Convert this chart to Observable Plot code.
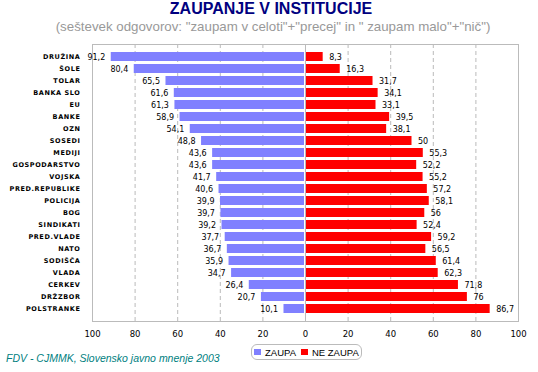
<!DOCTYPE html>
<html><head><meta charset="utf-8">
<script src="https://cdn.jsdelivr.net/npm/d3@7"></script>
<script src="https://cdn.jsdelivr.net/npm/@observablehq/plot@0.6"></script>
<style>
body{margin:0;background:#fff;}
#wrap{position:relative;width:538px;height:372px;overflow:hidden;font-family:"Liberation Sans",Arial,sans-serif;}
#title{position:absolute;top:0px;left:0;width:542px;text-align:center;font-weight:bold;font-size:16px;color:#000080;}
#sub{position:absolute;top:19px;left:0;width:546px;text-align:center;font-size:13.3px;color:#999;}
#chart{position:absolute;top:0;left:0;}
#legend{position:absolute;top:344px;left:251px;height:14px;padding:0 2px;border:1px solid #bbb;border-radius:6px;font-size:9.5px;display:flex;align-items:center;gap:3px;color:#000;}
#legend span.sw{display:inline-block;width:7px;height:6px;margin-right:1px;}
#foot{position:absolute;top:352px;left:6px;font-style:italic;font-size:10.5px;color:#008080;}
</style></head>
<body><div id="wrap">
<div id="chart"></div>
<div id="title">ZAUPANJE V INSTITUCIJE</div>
<div id="sub">(seštevek odgovorov: "zaupam v celoti"+"precej" in " zaupam malo"+"nič")</div>
<div id="legend"><span class="sw" style="background:#8080ff"></span>ZAUPA <span class="sw" style="background:#ff0000;margin-left:2px"></span>NE ZAUPA</div>
<div id="foot">FDV - CJMMK, Slovensko javno mnenje 2003</div>
</div>
<script>
const categories = ["DRUŽINA","ŠOLE","TOLAR","BANKA SLO","EU","BANKE","OZN","SOSEDI","MEDIJI","GOSPODARSTVO","VOJSKA","PRED.REPUBLIKE","POLICIJA","BOG","SINDIKATI","PRED.VLADE","NATO","SODIŠČA","VLADA","CERKEV","DRŽZBOR","POLSTRANKE"];
const zaupa = [91.2,80.4,65.5,61.6,61.3,58.9,54.1,48.8,43.6,43.6,41.7,40.6,39.9,39.7,39.2,37.7,36.7,35.9,34.7,26.4,20.7,10.1];
const neZaupa = [8.3,16.3,31.7,34.1,33.1,39.5,38.1,50,55.3,52.2,55.2,57.2,58.1,56,52.4,59.2,56.5,61.4,62.3,71.8,76,86.7];
const xTicks = [-100,-80,-60,-40,-20,0,20,40,60,80,100];

const rows = categories.map((c,i)=>({cat:c, z:zaupa[i], n:neZaupa[i]}));
const fmt = v => String(v).replace(".", ",");

const chart = Plot.plot({
  width:538, height:340,
  marginLeft:92, marginRight:20, marginTop:44, marginBottom:19,
  style:{fontFamily:"'DejaVu Sans',Arial,sans-serif", background:"transparent"},
  x:{domain:[-100,100], ticks:xTicks, tickFormat:d=>Math.abs(d), tickSize:0, tickPadding:9, label:null},
  y:{domain:categories, padding:0.25, tickSize:0, tickPadding:12, label:null},
  marks:[
    Plot.ruleX(xTicks.filter(d=>d!==0 && Math.abs(d)!==100), {stroke:"#bbb", strokeDasharray:"4,3", strokeOpacity:1}),
    Plot.barX(rows, {y:"cat", x1:0, x2:d=>-d.z, fill:"#8080ff", insetRight:1}),
    Plot.barX(rows, {y:"cat", x1:0, x2:"n", fill:"#ff0000", insetLeft:1}),
    Plot.ruleX([0], {stroke:"#bbb", strokeWidth:1}),
    Plot.frame({stroke:"#bbb"}),
    Plot.text(rows, {y:"cat", x:d=>-d.z, text:d=>fmt(d.z), textAnchor:"end", dx:-6, fontSize:8, fill:"#000"}),
    Plot.text(rows, {y:"cat", x:"n", text:d=>fmt(d.n), textAnchor:"start", dx:6, fontSize:8, fill:"#000"})
  ]
});
chart.querySelectorAll('[aria-label="y-axis tick label"] text').forEach(t=>{t.setAttribute("font-size","6.5");t.setAttribute("font-weight","bold");t.setAttribute("letter-spacing","0.6");});
chart.querySelectorAll('[aria-label="x-axis tick label"] text').forEach(t=>{t.setAttribute("font-size","8.5");});
document.getElementById("chart").appendChild(chart);
</script>
</body></html>
